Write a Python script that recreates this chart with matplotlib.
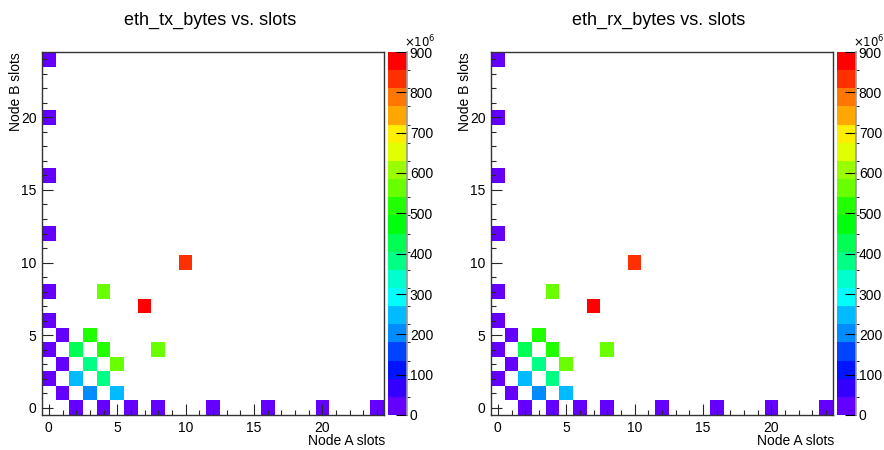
#!/usr/bin/env python

import colorsys
import numpy as np
import matplotlib
matplotlib.use("Agg")
import matplotlib.pyplot as plt
from matplotlib.colors import ListedColormap, BoundaryNorm

plt.rcParams['font.family'] = ['Liberation Sans', 'DejaVu Sans']

# slot grid 0..24 on both axes
n_slots = 25

# filled cells: (node A slot, node B slot) and bytes in units of 1e6
node_a = [0, 0, 0, 0, 0, 0, 0, 0,
          2, 4, 6, 8, 12, 16, 20, 24,
          1, 1, 1,
          3, 5, 2, 4, 3, 5, 2, 4, 8, 3, 4, 7, 10]
node_b = [2, 4, 6, 8, 12, 16, 20, 24,
          0, 0, 0, 0, 0, 0, 0, 0,
          1, 3, 5,
          1, 1, 2, 2, 3, 3, 4, 4, 4, 5, 8, 7, 10]

tx_mbytes = [22, 22, 22, 22, 22, 22, 22, 22,
             22, 22, 22, 22, 22, 22, 22, 22,
             22, 22, 22,
             200, 250, 250, 380, 380, 560, 425, 515, 560, 515, 560, 880, 830]
rx_mbytes = [22, 22, 22, 22, 22, 22, 22, 22,
             22, 22, 22, 22, 22, 22, 22, 22,
             22, 22, 22,
             200, 250, 250, 380, 380, 560, 425, 515, 560, 515, 560, 880, 830]

z_max = 900
n_contours = 20
cbar_ticks = list(range(0, 901, 100))


def pretty_palette(ncont, ncolors=50):
    """ROOT 5 'pretty' palette (violet -> red), sampled at ncont contours"""
    cols = []
    for k in range(ncont):
        idx = int((k + 0.99) * ncolors / ncont)
        if idx >= ncolors - 1:
            hue = 0.0
        else:
            hue = 280.0 - (idx + 1) * 280.0 / ncolors
        cols.append(colorsys.hls_to_rgb(hue / 360.0, 0.5, 1.0))
    return ListedColormap(cols)


cmap = pretty_palette(n_contours)
levels = np.linspace(0, z_max, n_contours + 1)
norm = BoundaryNorm(levels, n_contours)

W, H = 884.0, 450.0
fig = plt.figure(figsize=(8.84, 4.5), dpi=100)


def draw_panel(x0, title, vals):
    ax = fig.add_axes([x0 / W, 35 / H, 342 / W, 363 / H])
    cax = fig.add_axes([(x0 + 346) / W, 35 / H, 19 / W, 363 / H])

    grid = np.full((n_slots, n_slots), np.nan)
    for a, b, v in zip(node_a, node_b, vals):
        grid[b, a] = v
    edges = np.arange(n_slots + 1) - 0.5
    mesh = ax.pcolormesh(edges, edges, np.ma.masked_invalid(grid),
                         cmap=cmap, norm=norm)

    ax.set_xlim(-0.5, n_slots - 0.5)
    ax.set_ylim(-0.5, n_slots - 0.5)
    for axis in (ax.xaxis, ax.yaxis):
        axis.set_ticks([0, 5, 10, 15, 20])
        axis.set_ticks(range(n_slots), minor=True)
    ax.tick_params(which='both', direction='in', top=False, right=False,
                   width=0.8, labelsize=10, color='0.15')
    ax.tick_params(which='major', length=8)
    ax.tick_params(which='minor', length=3.5)
    ax.tick_params(axis='x', pad=4)
    ax.tick_params(axis='y', pad=4)
    for sp in ax.spines.values():
        sp.set_linewidth(1.0)
        sp.set_color('0.2')

    cb = fig.colorbar(mesh, cax=cax, ticks=cbar_ticks)
    cb.outline.set_visible(False)
    cax.tick_params(direction='in', length=8, width=0.8, labelsize=10, pad=2)
    cax.plot([1, 1], [0, 1], transform=cax.transAxes, color='0.6', lw=1.2,
             clip_on=False)

    fig.text((x0 + 362) / W, 1 - 50 / H, r'$\times10^{6}$', fontsize=8.5,
             ha='left', va='bottom')

    fig.text((x0 + 168) / W, 1 - 20 / H, title, fontsize=13,
             ha='center', va='center')
    fig.text((x0 + 343) / W, 1 - 441 / H, 'Node A slots', fontsize=10,
             ha='right', va='center')
    fig.text((x0 - 26) / W, 1 - 52 / H, 'Node B slots', fontsize=10,
             ha='center', va='top', rotation=90)


draw_panel(42, 'eth_tx_bytes vs. slots', tx_mbytes)
draw_panel(491, 'eth_rx_bytes vs. slots', rx_mbytes)

fig.savefig('out.png', dpi=100)
